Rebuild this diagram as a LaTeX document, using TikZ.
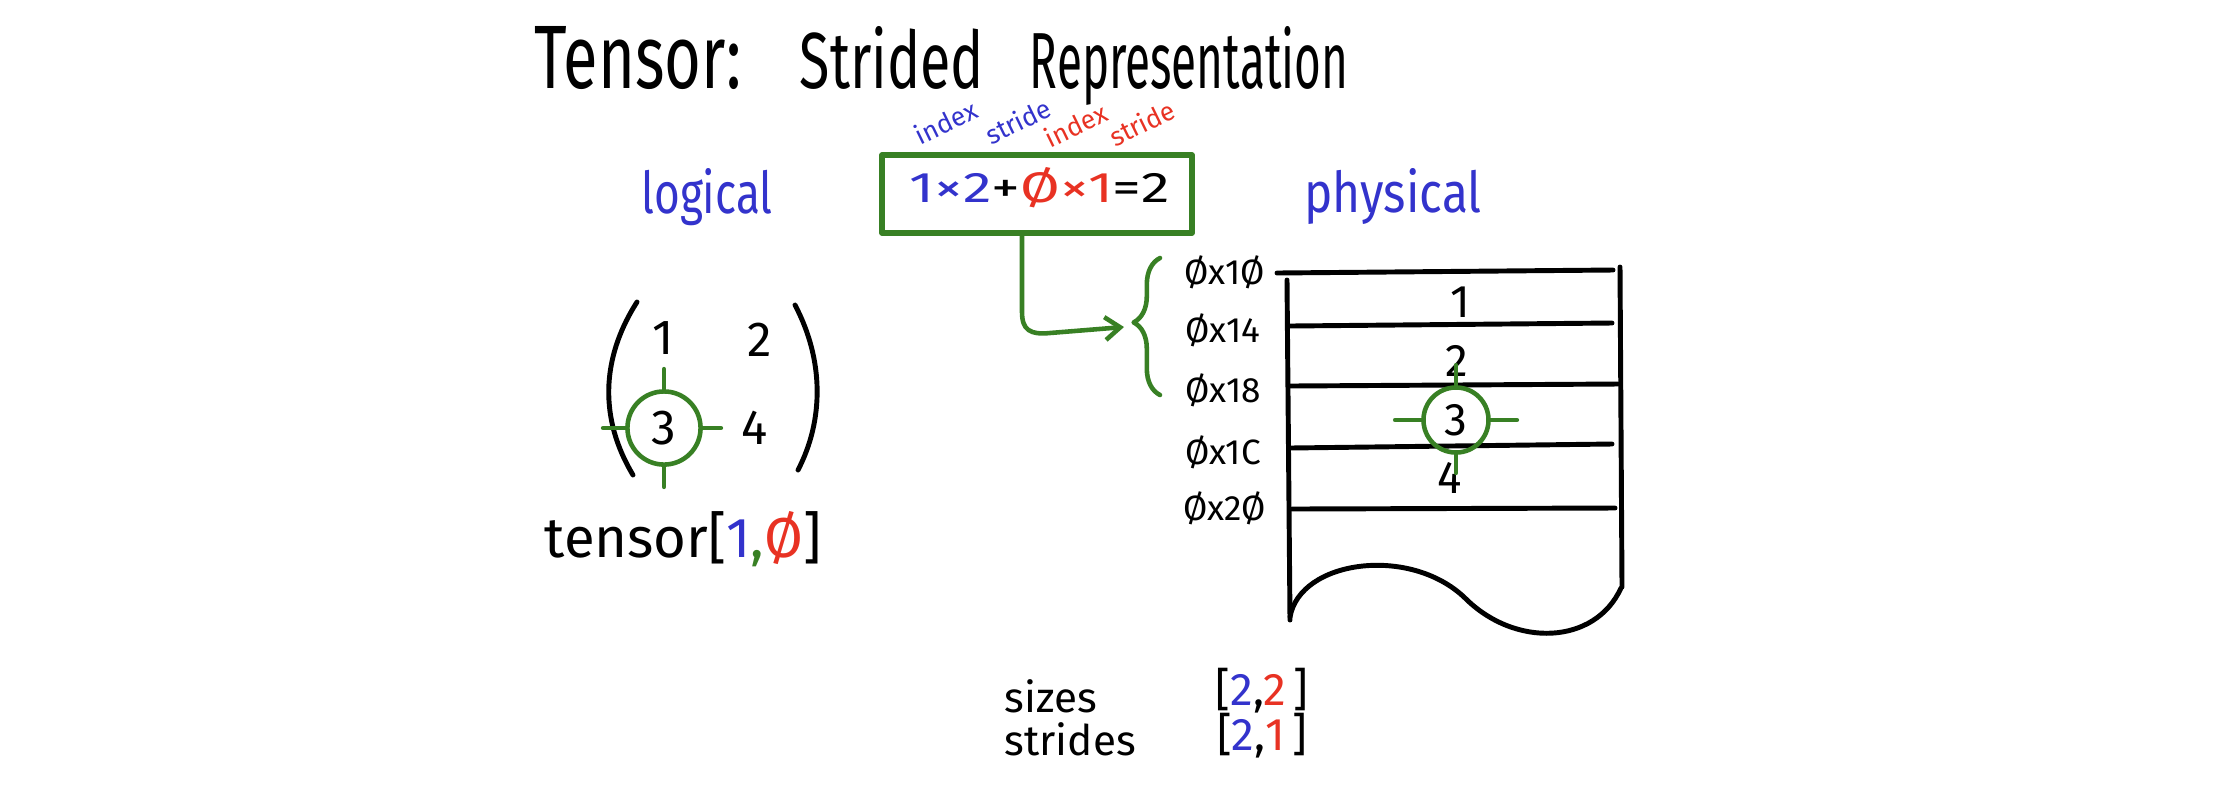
\documentclass[tikz,border=0pt]{standalone}
\usepackage{fontspec}
\setmainfont{Fira Sans}
\usetikzlibrary{arrows.meta,decorations.pathreplacing,calc}
\definecolor{hblue}{RGB}{51,51,204}
\definecolor{hred}{RGB}{232,50,35}
\definecolor{hgreen}{RGB}{56,128,36}
\newdimen\pxu \pxu=0.28453pt
\newcommand{\fitbox}[3]{\resizebox{#1\pxu}{#2\pxu}{#3}}
\begin{document}
\begin{tikzpicture}[x=0.01cm, y=-0.01cm, line cap=round, line join=round,
  ink/.style={line width=1.4pt, black},
  gline/.style={line width=1.3pt, hgreen},
  txt/.style={inner sep=0pt},
  addr/.style={inner sep=0pt, font=\fontsize{10}{12}\selectfont},
  mnum/.style={inner sep=0pt, font=\fontsize{13}{15}\selectfont},
  lnum/.style={inner sep=0pt, font=\fontsize{14}{16}\selectfont},
  tiny/.style={inner sep=0pt, font=\fontsize{7.5}{8}\selectfont, rotate=26},
  ring/.style={circle, draw=hgreen, line width=1.3pt, inner sep=0pt},
  eqbox/.style={draw=hgreen, line width=1.5pt, minimum width=88.2pt, minimum height=22.2pt, inner sep=0pt},
  barb/.style={-{Straight Barb[length=4.3pt,width=6.5pt]}}]
\useasboundingbox (0,0) rectangle (2236,790);

% title
\node[txt, anchor=base] (t1) at (638,88) {\fitbox{207}{62}{Tensor:}};
\node[txt, anchor=base] (t2) at (892,88) {\fitbox{184}{62}{Strided}};
\node[txt, anchor=base] (t3) at (1189,88) {\fitbox{318}{62}{Representation}};

% headings
\node[txt, anchor=base, text=hblue] (logical) at (707,213) {\fitbox{131}{45}{logical}};
\node[txt, anchor=base, text=hblue] (physical) at (1393,212) {\fitbox{177}{44}{physical}};

% equation box
\node[eqbox] (box) at (1037,194) {};
\node[txt] (eq) at (1040,188) {\fitbox{260}{35}{\textcolor{hblue}{1×2}+\textcolor{hred}{Ø×1}=2}};
\node[tiny, text=hblue] (ib) at (946,122) {index};
\node[tiny, text=hblue] (sb) at (1018,121) {stride};
\node[tiny, text=hred] (ir) at (1076,125) {index};
\node[tiny, text=hred] (sr) at (1142,123) {stride};

% arrow to brace
\coordinate (arrowend) at (1124,327);
\draw[gline, barb] ($(box.south)+(-15,0)$) -- (1022,312)
  .. controls (1022,330) and (1030,335) .. (1050,333) -- (arrowend);
\draw[gline, decorate, decoration={brace, amplitude=7.5pt, aspect=0.53}] (1160,395) -- (1160,258);

% addresses
\node[addr] (a10) at (1225,272) {Øx1Ø};
\node[addr] (a14) at (1223,330) {Øx14};
\node[addr] (a18) at (1223,390) {Øx18};
\node[addr] (a1c) at (1223,452) {Øx1C};
\node[addr] (a20) at (1225,508) {Øx2Ø};

% memory block
\draw[ink] (1277,273) -- (1613,270);
\draw[ink] (1620,267) -- (1622,587);
\draw[ink] (1287,280) -- (1290,620);
\draw[ink] (1290,326) -- (1612,323);
\draw[ink] (1290,386) -- (1618,384);
\draw[ink] (1290,448) -- (1612,444);
\draw[ink] (1292,509) -- (1615,508);
\draw[ink] (1290,617) .. controls (1300,560) and (1410,545) .. (1465,598)
  .. controls (1515,648) and (1595,645) .. (1621,588);

\node[mnum] (m1) at (1460,302) {1};
\node[mnum] (m2) at (1457,361) {2};
\node[mnum] (m4) at (1450,478) {4};
\node[ring, mnum, minimum size=18.5pt] (m3) at (1456,420) {3};
\draw[gline] (m3.north) -- ++(0,-20);
\draw[gline] (m3.south) -- ++(0,18);
\draw[gline] (m3.west) -- ++(-26,0);
\draw[gline] (m3.east) -- ++(26,0);

% logical matrix
\draw[ink] (637,302) .. controls (600,360) and (600,420) .. (633,475);
\draw[ink] (795,305) .. controls (824,360) and (824,420) .. (798,470);
\node[lnum] (l1) at (663,338) {1};
\node[lnum] (l2) at (760,340) {2};
\node[lnum] (l4) at (755,428) {4};
\node[ring, lnum, minimum size=20.8pt] (l3) at (664,428) {3};
\draw[gline] (l3.north) -- ++(0,-20);
\draw[gline] (l3.south) -- ++(0,20);
\draw[gline] (l3.west) -- ++(-22,0);
\draw[gline] (l3.east) -- ++(18,0);

\node[txt, anchor=base, font=\fontsize{16}{18}\selectfont] (idx) at (683,557)
  {tensor[\textcolor{hblue}{1}\textcolor{hgreen}{,}\textcolor{hred}{Ø}]};

% sizes / strides
\node[txt, anchor=base west, font=\fontsize{12}{14}\selectfont] (sizes) at (1004,712) {sizes};
\node[txt, anchor=base west, font=\fontsize{12}{14}\selectfont] (strides) at (1004,755) {strides};
\node[txt, anchor=base, font=\fontsize{13}{15}\selectfont] (szv) at (1262,705)
  {[\textcolor{hblue}{2},\textcolor{hred}{2}\kern2pt]};
\node[txt, anchor=base, font=\fontsize{13}{15}\selectfont] (stv) at (1262,750)
  {[\textcolor{hblue}{2},\textcolor{hred}{1}\kern2pt]};
\end{tikzpicture}
\end{document}
